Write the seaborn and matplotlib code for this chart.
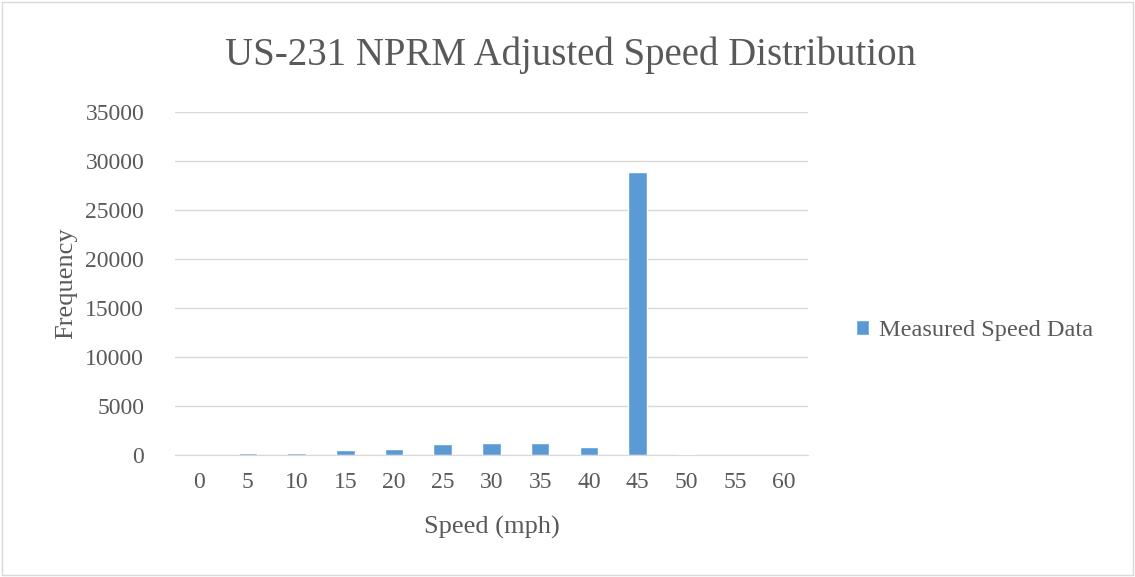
import pandas as pd
import matplotlib.pyplot as plt
import seaborn as sns

# speed bins (mph) and counts
speeds = ['0', '5', '10', '15', '20', '25', '30', '35', '40', '45', '50', '55', '60']
counts = [0, 200, 200, 500, 650, 1100, 1300, 1200, 800, 28900, 100, 30, 30]

df = pd.DataFrame({'speed': speeds, 'count': counts, 'series': 'Measured Speed Data'})

sns.set_style("white")
plt.rcParams['font.family'] = ['Liberation Serif', 'DejaVu Serif']
txt = '#595959'

fig = plt.figure(figsize=(11.35, 5.77), dpi=100)
ax = fig.add_axes([0.154, 0.211, 0.558, 0.595])

sns.barplot(data=df, x='speed', y='count', hue='series', palette=['#5B9BD5'],
            saturation=1, width=0.38, ax=ax, zorder=3)

ax.set_ylim(0, 35000)
ax.set_yticks(range(0, 35001, 5000))
ax.yaxis.grid(True, color='#D9D9D9', linewidth=1, zorder=0)
for s in ['top', 'right', 'left']:
    ax.spines[s].set_visible(False)
ax.spines['bottom'].set_color('#D9D9D9')
ax.tick_params(axis='y', length=0, labelsize=17, colors=txt, pad=22)
ax.tick_params(axis='x', length=0, labelsize=17, colors=txt, pad=12)

ax.set_xlabel('Speed (mph)', fontsize=19, color=txt)
ax.set_ylabel('Frequency', fontsize=19, color=txt)
ax.xaxis.set_label_coords(0.5, -0.21)
ax.xaxis.label.set_va('center')
ax.yaxis.set_label_coords(-0.172, 0.5)
ax.yaxis.label.set_va('center')

fig.text(0.503, 0.905, 'US-231 NPRM Adjusted Speed Distribution', fontsize=28,
         color=txt, ha='center', va='center')

leg = ax.legend(loc='center left', bbox_to_anchor=(1.056, 0.364), frameon=False,
                borderpad=0, fontsize=17.5, handlelength=0.55, handleheight=0.55,
                handletextpad=0.4)
for t in leg.get_texts():
    t.set_color(txt)

# light outer border like the original chart frame
fig.patches.append(plt.Rectangle((0.002, 0.003), 0.996, 0.994, transform=fig.transFigure,
                                 fill=False, edgecolor='#D9D9D9', linewidth=1))

fig.savefig('out.png', dpi=100)
